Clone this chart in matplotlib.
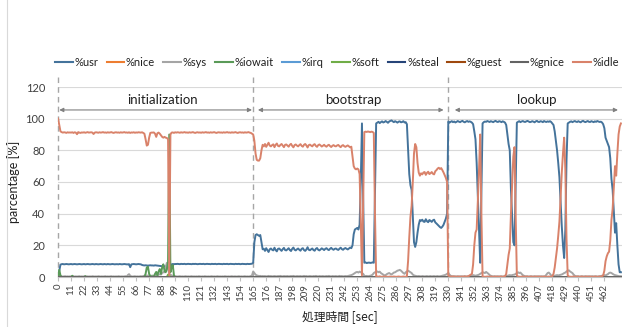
import matplotlib
matplotlib.use("Agg")
import matplotlib.pyplot as plt
from matplotlib.lines import Line2D

# ---------------- data ----------------
usr = [
    0, 4, 7.8, 8.1, 8.2, 8.0, 8.1, 8.2, 8.1, 8.0,
    8.1, 8.2, 8.0, 8.1, 8.2, 8.1, 8.0, 8.1, 8.2, 8.1,
    8.0, 8.1, 8.2, 8.0, 8.1, 8.2, 8.1, 8.0, 8.1, 8.2,
    8.1, 8.0, 8.2, 8.1, 8.0, 8.1, 8.2, 8.1, 8.0, 8.2,
    8.1, 8.0, 8.2, 8.1, 8.0, 8.1, 8.2, 8.1, 8.0, 8.1,
    8.1, 8.0, 8.2, 8.1, 8.0, 8.1, 8.2, 8.1, 8.0, 8.0,
    8.1, 6.2, 8.0, 8.1, 8.2, 8.1, 8.0, 8.1, 8.2, 8.1,
    8.0, 7.6, 7.4, 7.3, 7.4, 7.3, 7.2, 7.3, 7.4, 7.3,
    7.3, 7.2, 7.4, 7.3, 7.2, 7.1, 7.0, 6.9, 6.8, 6.8,
    6.8, 6.5, 6.2, 6.0, 6.0, 7.0, 8.0, 8.2, 8.1, 8.2,
    8.2, 8.3, 8.2, 8.1, 8.3, 8.2, 8.2, 8.3, 8.1, 8.2,
    8.3, 8.2, 8.2, 8.1, 8.3, 8.2, 8.3, 8.2, 8.1, 8.2,
    8.3, 8.2, 8.2, 8.3, 8.1, 8.2, 8.3, 8.2, 8.2, 8.1,
    8.3, 8.2, 8.2, 8.3, 8.1, 8.2, 8.3, 8.2, 8.2, 8.1,
    8.3, 8.2, 8.2, 8.3, 8.1, 8.2, 8.3, 8.2, 8.2, 8.1,
    8.3, 8.2, 8.2, 8.3, 8.1, 8.2, 8.3, 8.2, 8.2, 8.1,
    8.3, 8.2, 8.2, 8.3, 8.4,
    9, 22, 26.5, 27, 26.5, 26, 26.5, 22, 17.5,
    17.8, 16.5, 18.2, 17.0, 15.8, 17.5, 18.0, 17.2, 16.8, 18.5,
    17.0, 16.2, 17.8, 18.0, 17.2, 16.5, 17.6, 18.4, 17.0, 16.8,
    17.5, 18.2, 17.0, 16.4, 17.8, 18.6, 17.2, 16.8, 17.5, 18.0,
    17.2, 16.6, 17.8, 18.2, 17.0, 16.5, 17.4, 18.8, 17.2, 16.9,
    17.5, 18.0, 17.0, 16.6, 17.8, 18.3, 17.2, 16.8, 17.4, 18.1,
    17.6, 17.0, 17.8, 18.2, 17.4, 17.0, 17.8, 18.4, 17.6, 17.2,
    17.8, 18.0, 17.4, 17.1, 17.9, 18.5, 17.6, 17.2, 17.9, 18.3,
    17.8, 17.4, 18.0, 18.6, 18.2,
    20, 27, 30, 30.5, 31, 30, 33, 60, 97, 50,
    9, 9.2, 8.8, 9.0, 9.1, 8.9, 9.0, 9.2, 9.0, 55, 97,
    97.5, 98.0, 97.2, 97.8, 98.3, 97.6, 97.9, 98.5, 98.0, 97.4,
    98.2, 98.6, 98.9, 98.3, 97.8, 98.4, 98.0, 97.5, 98.1, 98.3,
    97.7, 97.9, 98.4, 97.6, 97.8, 96.5,
    80, 65, 58, 55, 38, 22, 19, 22, 28, 33, 36,
    35.5, 36.2, 35.0, 34.8, 36.5, 35.2, 34.6, 36.0, 35.5, 34.8,
    35.8, 36.2, 34.5, 33.8, 33.0, 32.2, 31.5, 31.0, 31.8, 33.0,
    35.0, 37.0, 40,
    98.2, 97.5, 98.0, 98.4, 97.8, 98.2, 97.6, 98.0, 98.5, 98.1,
    97.8, 98.3, 98.6, 98.0, 97.7, 98.2, 98.5, 98.0, 98.3,
    98.0, 97.5, 96.5, 92, 87, 72, 50, 30, 9, 55,
    97.0, 97.8, 98.2, 98.0, 98.5, 98.2, 97.9, 98.4, 98.1, 97.8,
    98.3, 98.6, 98.1, 97.9, 98.4, 98.2, 97.8, 98.3, 98.0, 97.5,
    96, 90, 84, 80, 55, 38, 22, 20, 60, 97.5,
    98.0, 98.4, 97.8, 98.2, 98.5, 98.1, 97.9, 98.3, 98.6, 98.2,
    97.8, 98.0, 98.4, 98.1, 97.7, 98.3, 98.6, 98.0, 97.9, 98.4,
    98.2, 97.8, 98.5, 98.1, 97.9, 98.3, 98.0, 98.4, 97.9, 97.0,
    96, 92, 86, 80, 72, 63, 48, 32, 20, 12, 30, 74, 97,
    97.5, 98.0, 98.3, 97.8, 98.2, 98.5, 98.1, 97.9, 98.4, 98.0,
    97.7, 98.3, 98.6, 98.1, 97.8, 98.2, 98.5, 98.0, 97.9, 98.4,
    98.1, 97.8, 98.3, 98.0, 98.5, 98.2, 97.9, 98.1, 97.6,
    96.5, 94, 88, 86, 84, 82, 75, 62, 55, 42, 28, 34, 20, 8, 3, 3,
]

idle = [
    100, 96, 92, 91.5, 91.2, 91.4, 91.3, 91.0, 91.4, 91.2,
    91.3, 91.2, 91.4, 91.0, 91.4, 91.2, 90.2, 91.5, 91.2, 91.0,
    91.3, 91.2, 91.4, 91.1, 91.3, 91.5, 91.2, 91.3, 91.4, 91.2,
    90.3, 91.2, 91.4, 91.3, 91.1, 91.4, 91.2, 91.3, 91.5, 91.2,
    91.3, 91.1, 91.4, 91.2, 91.3, 91.5, 91.2, 91.0, 91.3, 91.4,
    91.2, 91.3, 91.1, 91.4, 91.2, 91.3, 91.5, 91.2, 91.3, 91.1,
    91.4, 91.0, 91.3, 91.2, 91.4, 91.1, 91.3, 91.2, 91.4, 91.3,
    91.2, 91.4, 91.0, 90.5, 87, 83, 83.5, 88, 91, 91.2,
    91.2, 91.3, 90.5, 88.5, 90.8, 91.2, 90.5, 89.5, 88.5, 88,
    88.5, 88, 87.8, 87, 1, 90, 91.2, 91.3, 91.0, 91.4,
    91.2, 91.4, 91.3, 91.1, 91.4, 91.2, 91.3, 91.5, 91.2, 91.3,
    91.1, 91.4, 91.2, 91.3, 91.5, 91.2, 91.0, 91.3, 91.4, 91.2,
    91.3, 91.1, 91.4, 91.2, 91.3, 91.5, 91.2, 91.3, 91.1, 91.4,
    91.2, 91.3, 91.5, 91.2, 91.0, 91.3, 91.4, 91.2, 91.3, 91.1,
    91.4, 91.2, 91.3, 91.5, 91.2, 91.3, 91.1, 91.4, 91.2, 91.3,
    91.5, 91.2, 91.0, 91.3, 91.4, 91.2, 91.3, 91.1, 91.4, 91.2,
    91.3, 91.5, 91.2, 91.0, 90.5,
    90, 86, 78, 74, 73.5, 73.5, 75, 80, 83.5,
    82.5, 84.0, 82.2, 83.5, 84.8, 83.0, 82.5, 83.3, 83.8, 82.0,
    83.5, 84.3, 82.8, 82.5, 83.4, 84.0, 83.0, 82.0, 83.5, 83.7,
    83.0, 82.3, 83.5, 84.1, 82.8, 81.9, 83.3, 83.7, 83.0, 82.5,
    83.3, 83.9, 82.8, 82.3, 83.5, 84.0, 83.1, 81.8, 83.3, 83.6,
    83.0, 82.5, 83.5, 83.9, 82.8, 82.2, 83.3, 83.7, 83.1, 82.4,
    82.9, 83.5, 82.7, 82.3, 83.1, 83.5, 82.7, 82.1, 82.9, 83.3,
    82.7, 82.5, 83.1, 83.4, 82.6, 82.0, 82.9, 83.3, 82.6, 82.2,
    82.7, 83.1, 82.5, 81.9, 82.3,
    76, 70, 68.5, 68, 68.5, 68, 65, 35, 1, 45,
    91.5, 91.8, 91.6, 91.9, 91.7, 91.5, 91.8, 91.6, 91.0, 40, 0.5,
    0.3, 0.2, 0.4, 0.2, 0.1, 0.3, 0.2, 0.3, 0.2, 0.1,
    0.2, 0.3, 0.1, 0.2, 0.3, 0.2, 0.1, 0.2, 0.3, 0.2,
    0.1, 0.2, 0.3, 0.2, 0.1, 0.5,
    10, 25, 38, 45, 60, 78, 84, 82, 72, 66, 64,
    65.5, 64.8, 66.0, 66.3, 64.5, 65.8, 66.5, 65.0, 65.5, 66.3,
    65.2, 64.8, 66.8, 67.5, 68.5, 69.0, 68.2, 68.8, 67.5, 66.0,
    64.2, 62.5, 60,
    1, 0.5, 0.3, 0.2, 0.4, 0.2, 0.3, 0.1, 0.2, 0.3,
    0.2, 0.1, 0.3, 0.2, 0.4, 0.2, 0.3, 0.5, 1,
    1.5, 2, 8, 20, 28, 30, 48, 68, 90, 40,
    0.3, 0.2, 0.1, 0.2, 0.3, 0.2, 0.1, 0.3, 0.2, 0.1,
    0.2, 0.3, 0.2, 0.1, 0.2, 0.3, 0.2, 0.1, 0.3, 0.5,
    2, 8, 14, 18, 40, 58, 76, 82, 38, 1,
    0.3, 0.2, 0.1, 0.2, 0.3, 0.2, 0.1, 0.3, 0.2, 0.1,
    0.2, 0.3, 0.2, 0.1, 0.2, 0.3, 0.2, 0.1, 0.3, 0.2,
    0.1, 0.2, 0.3, 0.2, 0.1, 0.2, 0.3, 0.2, 0.1, 0.5,
    2, 6, 12, 18, 26, 35, 50, 66, 78, 88, 68, 24, 1,
    0.3, 0.2, 0.1, 0.2, 0.3, 0.2, 0.1, 0.3, 0.2, 0.1,
    0.2, 0.3, 0.2, 0.1, 0.2, 0.3, 0.2, 0.1, 0.3, 0.2,
    0.1, 0.2, 0.3, 0.2, 0.1, 0.2, 0.3, 0.2, 0.5,
    1, 4, 10, 13, 15, 16, 23, 36, 43, 56, 70, 64, 78, 90, 95, 97,
]

sys_ = [
    0, 1.0, 0.6, 0.4, 0.3, 0.4, 0.5, 0.3, 0.4, 0.3,
    0.4, 0.3, 0.5, 0.4, 0.3, 0.4, 0.3, 0.4, 0.5, 0.3,
    0.4, 0.3, 0.4, 0.5, 0.3, 0.4, 0.3, 0.4, 0.3, 0.5,
    0.4, 0.3, 0.4, 0.3, 0.5, 0.4, 0.3, 0.4, 0.3, 0.4,
    0.5, 0.3, 0.4, 0.3, 0.4, 0.5, 0.3, 0.4, 0.3, 0.4,
    0.3, 0.5, 0.4, 0.3, 0.4, 0.3, 0.4, 0.5, 0.3, 1.2,
    1.8, 0.8, 0.4, 0.3, 0.4, 0.5, 0.3, 0.4, 0.3, 0.4,
    0.5, 0.4, 0.6, 0.8, 1.0, 0.8, 0.9, 0.7, 0.6, 0.8,
    0.9, 0.7, 1.0, 1.2, 0.9, 1.4, 1.8, 1.5, 2.5, 3.0,
    3.0, 6.0, 9.0, 5.0, 2.0, 1.5, 1.0, 0.8, 0.5, 0.4,
    0.4, 0.3, 0.4, 0.5, 0.3, 0.4, 0.3, 0.4, 0.5, 0.3,
    0.4, 0.3, 0.4, 0.5, 0.3, 0.4, 0.3, 0.4, 0.3, 0.5,
    0.4, 0.3, 0.4, 0.3, 0.5, 0.4, 0.3, 0.4, 0.3, 0.4,
    0.5, 0.3, 0.4, 0.3, 0.4, 0.5, 0.3, 0.4, 0.3, 0.4,
    0.3, 0.5, 0.4, 0.3, 0.4, 0.3, 0.4, 0.5, 0.3, 0.4,
    0.4, 0.3, 0.4, 0.5, 0.3, 0.4, 0.3, 0.4, 0.5, 0.3,
    0.4, 0.3, 0.4, 0.6, 1.0,
    3.5, 2.5, 1.5, 1.0, 0.8, 0.6, 0.7, 0.5, 0.6,
    0.5, 0.6, 0.4, 0.5, 0.7, 0.5, 0.6, 0.4, 0.5, 0.6,
    0.5, 0.4, 0.6, 0.5, 0.7, 0.5, 0.4, 0.6, 0.5, 0.5,
    0.6, 0.4, 0.5, 0.6, 0.5, 0.7, 0.5, 0.4, 0.6, 0.5,
    0.5, 0.6, 0.4, 0.5, 0.7, 0.5, 0.6, 0.4, 0.5, 0.6,
    0.5, 0.4, 0.6, 0.5, 0.7, 0.5, 0.4, 0.6, 0.5, 0.5,
    0.6, 0.4, 0.5, 0.6, 0.5, 0.7, 0.5, 0.4, 0.6, 0.5,
    0.5, 0.6, 0.4, 0.5, 0.7, 0.5, 0.6, 0.4, 0.5, 0.6,
    0.5, 0.6, 0.8, 1.0, 1.2,
    1.5, 2.0, 2.5, 3.0, 3.2, 2.8, 3.4, 3.0, 2.5, 2.0,
    0.8, 0.6, 0.7, 0.5, 0.6, 0.8, 1.0, 1.5, 2.5, 3.0, 3.2,
    3.5, 3.0, 3.4, 2.5, 2.0, 1.5, 1.0, 1.2, 1.8, 2.2,
    2.5, 2.0, 1.6, 2.2, 2.8, 3.0, 3.5, 4.0, 4.2, 4.5,
    4.0, 3.2, 2.5, 2.0, 3.0, 3.5,
    4.0, 3.5, 3.0, 2.5, 1.5, 1.0, 0.8, 0.6, 0.5, 0.6, 0.5,
    0.4, 0.6, 0.5, 0.4, 0.5, 0.6, 0.4, 0.5, 0.6, 0.4,
    0.5, 0.6, 0.4, 0.5, 0.6, 0.4, 0.5, 0.6, 0.8, 1.0,
    1.2, 1.5, 2.0,
    2.5, 1.5, 0.8, 0.5, 0.4, 0.5, 0.3, 0.4, 0.5, 0.3,
    0.4, 0.5, 0.3, 0.4, 0.5, 0.3, 0.4, 0.5, 0.6,
    0.8, 1.0, 1.2, 1.0, 0.8, 1.0, 1.2, 1.5, 2.0, 2.5,
    3.0, 2.8, 2.5, 3.2, 2.6, 2.0, 1.2, 0.8, 0.5, 0.4,
    0.5, 0.3, 0.4, 0.5, 0.3, 0.4, 0.5, 0.3, 0.4, 0.5,
    0.6, 0.8, 1.0, 1.2, 1.0, 1.2, 1.4, 1.5, 2.0, 2.5,
    3.0, 2.5, 2.8, 2.0, 1.2, 0.8, 0.5, 0.4, 0.5, 0.3,
    0.4, 0.5, 0.3, 0.4, 0.5, 0.3, 0.4, 0.5, 0.3, 0.4,
    0.5, 0.3, 0.4, 0.5, 1.5, 2.5, 2.8, 2.0, 1.0, 0.8,
    0.6, 0.8, 1.0, 1.2, 1.0, 1.2, 1.4, 1.6, 2.0, 2.5, 2.8, 3.5, 4.0,
    4.2, 3.5, 3.0, 2.5, 1.5, 0.8, 0.5, 0.4, 0.5, 0.3,
    0.4, 0.5, 0.3, 0.4, 0.5, 0.3, 0.4, 0.5, 0.3, 0.4,
    0.5, 0.3, 0.4, 0.5, 0.3, 0.4, 0.5, 0.6, 0.8,
    1.0, 1.2, 1.0, 1.4, 1.8, 2.5, 2.8, 2.5, 2.0, 1.5, 1.2, 1.0, 0.8, 0.6, 0.5, 0.5,
]

iowait = [
    0, 4.5, 1.0, 0, 0, 0, 0, 0, 0, 0,
    0, 0, 0.8, 0, 0, 0, 0, 0, 0, 0,
    0, 0, 0, 0.5, 0, 0, 0, 0, 0, 0,
    0, 0, 0, 0, 0, 0, 0, 0, 0, 0,
    0, 0, 0, 0, 0, 0, 0, 0, 0, 0,
    0, 0, 0, 0, 0, 0, 0, 0, 0, 0,
    0, 0, 0, 0, 0, 0, 0, 0, 0, 0,
    0, 0, 0, 0, 2.0, 6.0, 6.5, 2.0, 0.5, 0.3,
    0.3, 0.3, 2.0, 3.2, 1.0, 3.5, 5.0, 2.0, 6.0, 8.0,
    4.0, 3.0, 5.0, 9.5, 90, 3.0, 6.0, 7.5, 1.0, 0,
] + [0] * 377

soft = [0] * 93 + [1.5, 1.0] + [0] * 382

n_pts = 477
t = list(range(n_pts))
nice = [0] * n_pts
irq = [0] * n_pts
steal = [0] * n_pts
guest = [0] * n_pts
gnice = [0] * n_pts

series_names = ["%usr", "%nice", "%sys", "%iowait", "%irq", "%soft",
                "%steal", "%guest", "%gnice", "%idle"]
series_values = [usr, nice, sys_, iowait, irq, soft, steal, guest, gnice, idle]
series_colors = ["#44739B", "#ED7D31", "#A5A5A5", "#5A9A58", "#5B9BD5",
                 "#70AD47", "#264478", "#9E480E", "#636363", "#D9826A"]

tick_positions = list(range(0, 463, 11))
tick_labels = [str(v) for v in tick_positions]

phase_names = ["initialization", "bootstrap", "lookup"]
phase_bounds = [0, 165, 330]
phase_arrows = [(1, 164), (169, 326), (335.5, 473.5)]
phase_label_x = [88.5, 249.5, 405]

# ---------------- plot ----------------
plt.rcParams["font.family"] = ["Lato", "DejaVu Sans"]
W, H = 622, 327
fig = plt.figure(figsize=(W / 100, H / 100), dpi=100)
ax = fig.add_axes([57.5 / W, (H - 277) / H, (621.5 - 57.5) / W, 190 / H])

for name, vals, col in zip(series_names, series_values, series_colors):
    ax.plot(t, vals, color=col, lw=1.4, label=name, solid_joinstyle="round")

ax.set_xlim(-0.5, n_pts - 0.5)
ax.set_ylim(0, 120)
ax.set_yticks(range(0, 121, 20))
ax.yaxis.grid(True, color="#D9D9D9", lw=0.8)
ax.set_axisbelow(True)
for s in ["left", "right", "top"]:
    ax.spines[s].set_visible(False)
ax.spines["bottom"].set_color("#BFBFBF")
ax.tick_params(axis="y", length=0, labelsize=8, labelcolor="#404040", pad=9)
ax.set_xticks(tick_positions)
ax.set_xticklabels(tick_labels, rotation=90, fontsize=7, color="#404040")
ax.tick_params(axis="x", length=3, color="#BFBFBF", pad=2)

# phase markers
for b in phase_bounds:
    ax.plot([b, b], [0, 126.5], color="#A6A6A6", lw=1.0, ls=(0, (4, 3)),
            clip_on=False, zorder=1)
for (a0, a1), lx, name in zip(phase_arrows, phase_label_x, phase_names):
    ax.annotate("", xy=(a1, 105.5), xytext=(a0, 105.5),
                arrowprops=dict(arrowstyle="<|-|>", color="#808080", lw=0.8,
                                mutation_scale=6, shrinkA=0, shrinkB=0),
                annotation_clip=False)
    ax.text(lx, 112, name, ha="center", va="center", fontsize=9.5, color="#202020")

ax.set_ylabel("parcentage [%]", fontsize=9, color="#202020", labelpad=4)
fig.text(340 / W, 1 - 317 / H, "処理時間 [sec]", ha="center", va="center",
         fontsize=8.5, color="#202020",
         family=["Noto Sans CJK JP", "DejaVu Sans"])

handles = [Line2D([0], [0], color=c, lw=1.5) for c in series_colors]
fig.legend(handles, series_names, loc="center", ncol=10,
           bbox_to_anchor=(337 / W, 1 - 62 / H), frameon=False,
           fontsize=8, handlelength=1.6, handletextpad=0.15,
           columnspacing=0.75, labelcolor="#202020")

fig.add_artist(Line2D([7 / W, 7 / W], [0, 1], color="#D9D9D9", lw=0.8))

fig.savefig("out.png", dpi=100)
